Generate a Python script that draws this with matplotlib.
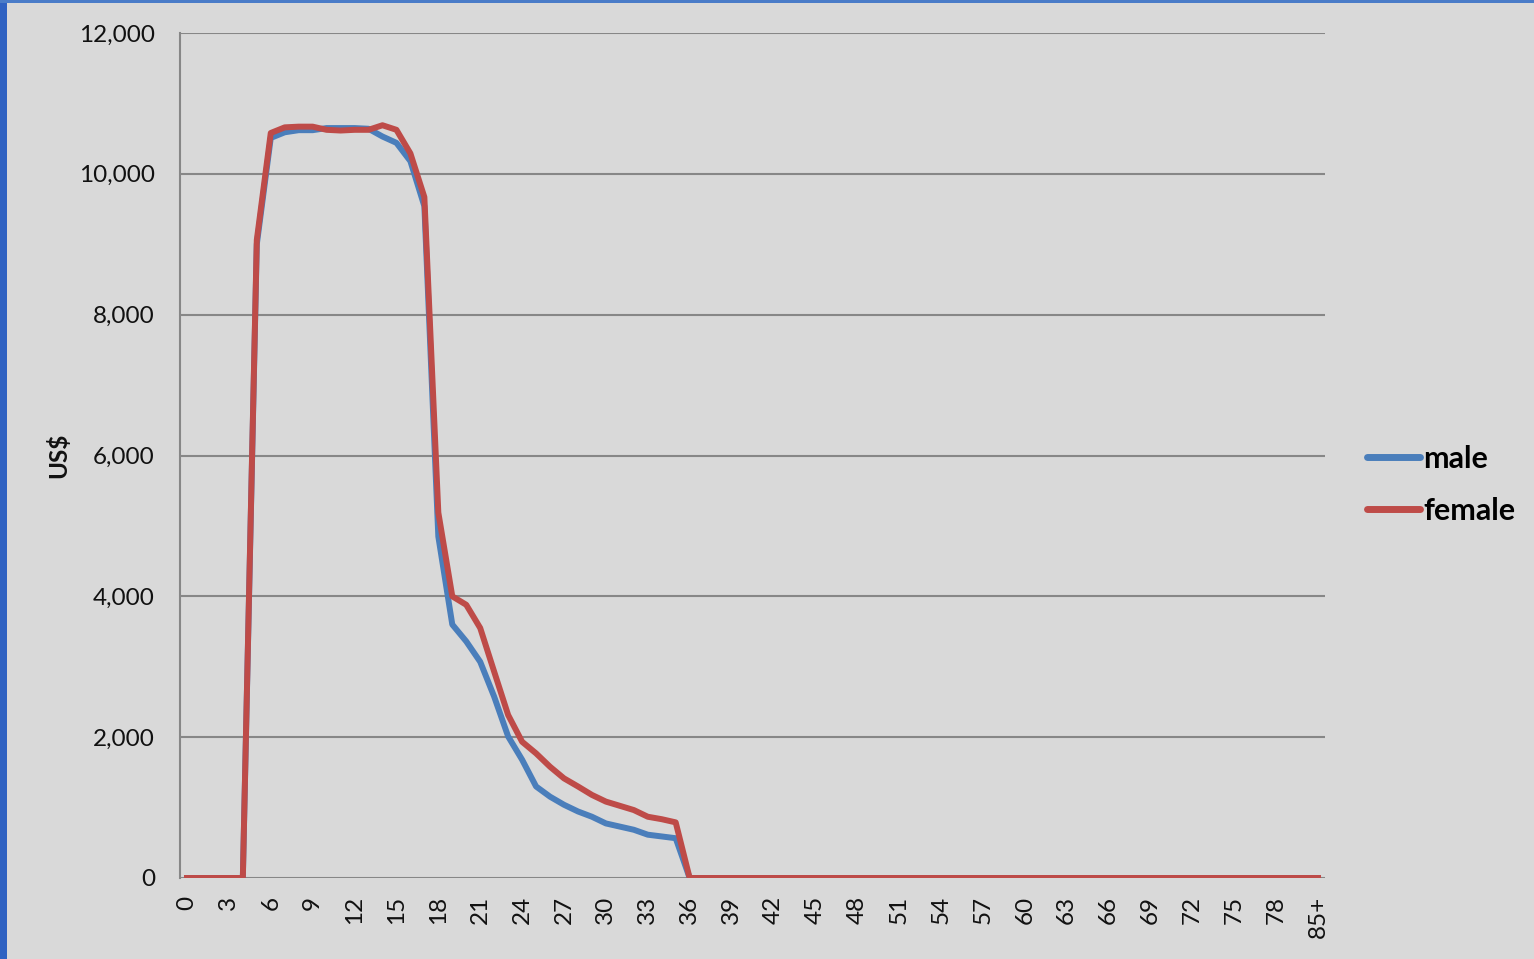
import matplotlib
matplotlib.use("Agg")
import matplotlib.pyplot as plt
from matplotlib.patches import Rectangle
from matplotlib.lines import Line2D

categories = [str(i) for i in range(81)] + ["85+"]

male = ([0, 0, 0, 0, 0, 9000, 10510, 10590, 10620, 10620, 10650, 10650, 10650, 10640,
         10530, 10440, 10180, 9540, 4850, 3600, 3360, 3070, 2575, 2010, 1680, 1300,
         1155, 1040, 945, 870, 775, 730, 685, 615, 590, 565]
        + [0] * 46)
female = ([0, 0, 0, 0, 0, 9060, 10580, 10660, 10670, 10670, 10625, 10615, 10625, 10625,
           10690, 10625, 10290, 9670, 5190, 4000, 3880, 3550, 2930, 2315, 1935, 1770,
           1580, 1415, 1300, 1180, 1085, 1025, 965, 870, 835, 790]
          + [0] * 46)

yticks = [0, 2000, 4000, 6000, 8000, 10000, 12000]

W, H = 1534, 959
plt.rcParams['font.family'] = ['Lato', 'DejaVu Sans']
fig = plt.figure(figsize=(W / 100, H / 100), dpi=100)
bg = '#D9D9D9'
fig.patch.set_facecolor(bg)

# blue border
fig.patches.append(Rectangle((0, 0), 7 / W, 1, transform=fig.transFigure,
                             facecolor='#2F62C2', edgecolor='none', zorder=0))
fig.patches.append(Rectangle((0, 1 - 3 / H), 1, 3 / H, transform=fig.transFigure,
                             facecolor='#4A7CC8', edgecolor='none', zorder=0))

ax = fig.add_axes([180 / W, 1 - 878 / H, (1325 - 180) / W, (878 - 33) / H])
ax.set_facecolor(bg)
x = list(range(len(categories)))
ax.plot(x, male, color='#4A7EBB', lw=4.3, solid_joinstyle='round', zorder=3, label='male')
ax.plot(x, female, color='#BE4B48', lw=4.3, solid_joinstyle='round', zorder=4, label='female')

ax.set_xlim(-0.5, len(categories) - 0.5)
ax.set_ylim(0, 12000)
ax.set_yticks(yticks)
ax.set_yticklabels([f"{v:,}" for v in yticks], fontsize=17.5, color='#111111')
ax.yaxis.grid(True, color='#878787', lw=1.5)
ax.set_axisbelow(True)
ax.tick_params(axis='y', length=0, pad=18)
ticks_idx = list(range(0, len(categories), 3))
ax.set_xticks(ticks_idx)
ax.set_xticklabels([categories[i] for i in ticks_idx], rotation=90, fontsize=17.5,
                   color='#111111', va='top', ha='center')
ax.tick_params(axis='x', length=0, pad=13)
for s in ['top', 'right', 'bottom']:
    ax.spines[s].set_visible(False)
ax.spines['left'].set_color('#878787')
ax.spines['left'].set_linewidth(1.5)

fig.text(58 / W, 1 - 455 / H, 'US$', rotation=90, fontsize=17.5, fontweight='bold',
         ha='center', va='center', color='#111111')

handles = [Line2D([], [], color='#4A7EBB', lw=5, solid_capstyle='round'),
           Line2D([], [], color='#BE4B48', lw=5, solid_capstyle='round')]
leg = fig.legend(handles, ['male', 'female'], loc='upper left',
                 bbox_to_anchor=(1339 / W, 1 - 417 / H), frameon=False,
                 prop={'size': 22, 'weight': 'bold'}, handlelength=1.75,
                 handletextpad=0.1, labelspacing=0.8)

fig.savefig('out.png', dpi=100, facecolor=bg)
